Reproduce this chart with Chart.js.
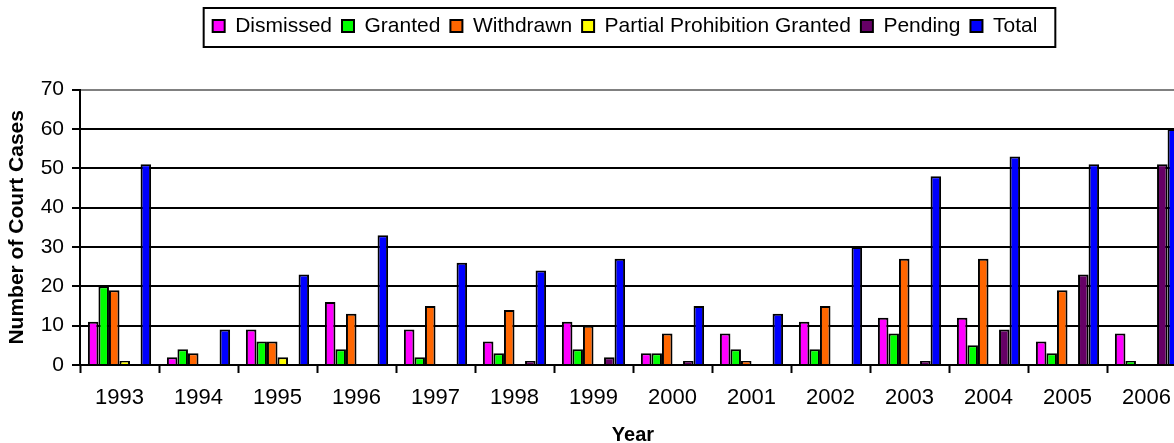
<!DOCTYPE html>
<html>
<head>
<meta charset="utf-8">
<script src="https://cdn.jsdelivr.net/npm/chart.js@4/dist/chart.umd.min.js"></script>
<style>
    html, body { margin: 0; padding: 0; overflow: hidden; background: #fff; }
    canvas { display: block; }
</style>
</head>
<body>
<canvas id="court-chart" width="1190" height="450"></canvas>
<script>
// データ
const years = ['1993', '1994', '1995', '1996', '1997', '1998', '1999', '2000', '2001', '2002', '2003', '2004', '2005', '2006'];
const dismissed = [11, 2, 9, 16, 9, 6, 11, 3, 8, 11, 12, 12, 6, 8];
const granted = [20, 4, 6, 4, 2, 3, 4, 3, 4, 4, 8, 5, 3, 1];
const withdrawn = [19, 3, 6, 13, 15, 14, 10, 8, 1, 15, 27, 27, 19, 0];
const partialGranted = [1, 0, 2, 0, 0, 0, 0, 0, 0, 0, 0, 0, 0, 0];
const pending = [0, 0, 0, 0, 0, 1, 2, 1, 0, 0, 1, 9, 23, 51];
const total = [51, 9, 23, 33, 26, 24, 27, 15, 13, 30, 48, 53, 51, 60];
const yTicks = [0, 10, 20, 30, 40, 50, 60, 70];

const FONT = "'Liberation Sans', Arial, sans-serif";

function bar(label, data, color) {
    return {
        label: label,
        data: data,
        backgroundColor: color,
        borderColor: '#000000',
        borderWidth: 2,
        borderSkipped: 'start',
        inflateAmount: 0
    };
}

// 凡例の枠とレイアウト調整
const legendBox = {
    id: 'legendBox',
    afterLayout(chart) {
        chart.legend.left = chart.chartArea.left - 8;
        chart.legend.right = chart.chartArea.right - 8;
    },
    afterDraw(chart) {
        const boxes = chart.legend.legendHitBoxes;
        if (!boxes || !boxes.length) return;
        const first = boxes[0];
        const last = boxes[boxes.length - 1];
        const ctx = chart.ctx;
        ctx.save();
        ctx.strokeStyle = '#000000';
        ctx.lineWidth = 2;
        ctx.strokeRect(first.left - 9, first.top - 7.5, (last.left + last.width + 18) - (first.left - 9), 39);
        ctx.restore();
    }
};

const ctx = document.getElementById('court-chart').getContext('2d');
new Chart(ctx, {
    type: 'bar',
    data: {
        labels: years,
        datasets: [
            bar('Dismissed', dismissed, '#FF00FF'),
            bar('Granted', granted, '#00FF00'),
            bar('Withdrawn', withdrawn, '#FF6600'),
            bar('Partial Prohibition Granted', partialGranted, '#FFFF00'),
            bar('Pending', pending, '#660066'),
            bar('Total', total, '#0000FF')
        ]
    },
    options: {
        responsive: false,
        animation: false,
        devicePixelRatio: 1,
        datasets: {
            bar: { categoryPercentage: 0.8, barPercentage: 1.0 }
        },
        layout: { padding: { top: 5.5, right: 4, bottom: 0, left: 0 } },
        plugins: {
            legend: {
                position: 'top',
                labels: {
                    color: '#000000',
                    font: { family: FONT, size: 21 },
                    boxWidth: 12,
                    boxHeight: 12,
                    padding: 10
                }
            },
            title: {
                display: true,
                text: '',
                weight: 100,
                font: { size: 10 },
                padding: { top: 0, bottom: 31.1 }
            },
            tooltip: { enabled: false }
        },
        scales: {
            x: {
                afterFit(scale) { scale.height = 85; },
                grid: {
                    display: true,
                    offset: true,
                    drawOnChartArea: false,
                    drawTicks: true,
                    tickLength: 8,
                    tickColor: '#000000',
                    tickWidth: 2
                },
                border: { display: true, color: '#000000', width: 2 },
                ticks: {
                    color: '#000000',
                    font: { family: FONT, size: 22 },
                    padding: 12,
                    maxRotation: 0,
                    autoSkip: false
                },
                title: {
                    display: true,
                    text: 'Year',
                    color: '#000000',
                    font: { family: FONT, size: 20, weight: 'bold' },
                    padding: { top: 0, bottom: 3 }
                }
            },
            y: {
                min: 0,
                max: 70,
                afterFit(scale) { scale.width = 80; },
                afterBuildTicks(scale) {
                    scale.ticks = yTicks.map(v => ({ value: v }));
                },
                grid: {
                    color: c => (c.tick && c.tick.value === 70 ? '#808080' : '#000000'),
                    lineWidth: 2,
                    drawTicks: true,
                    tickLength: 8,
                    tickColor: '#000000',
                    tickWidth: 2
                },
                border: { display: true, color: '#000000', width: 2 },
                ticks: {
                    color: '#000000',
                    font: { family: FONT, size: 21 },
                    padding: 8
                },
                title: {
                    display: true,
                    text: 'Number of Court Cases',
                    color: '#000000',
                    font: { family: FONT, size: 21, weight: 'bold' },
                    padding: { top: 5, bottom: 0 }
                }
            }
        }
    },
    plugins: [legendBox]
});
</script>
</body>
</html>
